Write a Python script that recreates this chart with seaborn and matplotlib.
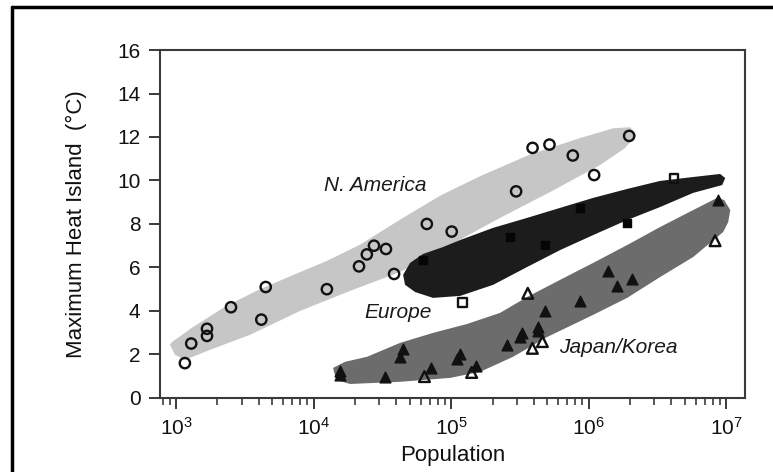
import matplotlib
matplotlib.use('Agg')
import matplotlib.pyplot as plt
import matplotlib.ticker as mticker
from matplotlib.lines import Line2D
import seaborn as sns

# --- data (population, maximum heat island in degC) ---
na_pop = [1160, 1290, 1680, 1680, 2510, 4170, 4490, 12500, 21400, 24400, 27500,
          33600, 38500, 66600, 101000, 297000, 391000, 519000, 767000, 1096000, 1970000]
na_dt = [1.6, 2.5, 2.85, 3.18, 4.17, 3.6, 5.1, 5.0, 6.05, 6.6, 7.0,
         6.85, 5.7, 8.0, 7.65, 9.5, 11.5, 11.65, 11.15, 10.25, 12.05]

eu_open_pop = [121000, 4170000]
eu_open_dt = [4.4, 10.1]
eu_fill_pop = [62500, 268000, 483000, 867000, 1900000]
eu_fill_dt = [6.34, 7.40, 7.03, 8.74, 8.05]

jk_open_pop = [64000, 141000, 361000, 390000, 461000, 8300000]
jk_open_dt = [0.98, 1.17, 4.81, 2.28, 2.59, 7.23]
jk_fill_pop = [15600, 15600, 33000, 42700, 45000, 71600, 110000, 116000, 151000, 254000,
               318000, 325000, 427000, 430000, 478000, 865000, 1380000, 1600000, 2080000, 8700000]
jk_fill_dt = [1.06, 1.25, 0.98, 1.9, 2.24, 1.36, 1.77, 2.0, 1.47, 2.44,
              2.79, 3.0, 3.28, 3.08, 4.01, 4.46, 5.84, 5.16, 5.45, 9.1]

# shaded envelopes around each group (outline points, data units)
na_env_pop = [935, 1330, 2350, 4080, 7100, 12500, 21800, 42600, 83200, 163000, 376000,
              867000, 1510000, 2000000, 2210000, 1840000, 1210000, 525000, 227000, 98400,
              42600, 18400, 7980, 3450, 1766, 1163, 984, 904]
na_env_dt = [2.57, 3.26, 4.25, 5.0, 5.65, 6.3, 7.05, 8.2, 9.3, 10.2, 11.2,
             11.95, 12.4, 12.45, 12.09, 11.49, 10.71, 9.47, 8.28, 7.03,
             5.79, 4.92, 4.00, 2.90, 2.21, 1.75, 1.98, 2.44]

eu_env_pop = [44770, 50320, 62550, 87400, 116200, 202000, 357100, 620500, 1079000, 1905000,
              3311000, 5754000, 9040000, 9840000, 9350000, 5754000, 3311000, 1905000,
              1079000, 620500, 357100, 202000, 116200, 73930, 54720, 46260]
eu_env_dt = [5.66, 6.21, 6.62, 6.94, 7.26, 7.82, 8.28, 8.74, 9.20, 9.61,
             9.98, 10.16, 10.30, 10.11, 9.79, 9.43, 8.78, 8.18,
             7.49, 6.80, 6.02, 5.20, 4.69, 4.60, 4.87, 5.20]

jk_env_pop = [13870, 16950, 24480, 42560, 73930, 130600, 227000, 357100, 620500, 1079000,
              1905000, 3311000, 5754000, 8600000, 9670000, 10700000, 10350000, 9510000,
              5754000, 3311000, 1905000, 1079000, 499000, 282300, 162500, 98400, 42560,
              18410, 14580]
jk_env_dt = [1.38, 1.66, 1.89, 2.53, 2.99, 3.40, 3.91, 4.64, 5.43, 6.21,
             7.03, 7.86, 8.64, 9.20, 9.10, 8.64, 8.09, 7.63,
             6.48, 5.56, 4.60, 3.82, 2.80, 1.89, 1.20, 0.92, 0.74,
             0.64, 0.83]

sns.set_style('ticks')
plt.rcParams['font.family'] = ['Liberation Sans', 'DejaVu Sans']
plt.rcParams['mathtext.fontset'] = 'custom'
plt.rcParams['mathtext.rm'] = 'Liberation Sans'
plt.rcParams['mathtext.it'] = 'Liberation Sans:italic'

fig = plt.figure(figsize=(7.73, 4.72), dpi=100)
ax = fig.add_axes([0.207, 0.157, 0.757, 0.737])
ax.set_xscale('log')

# envelopes, drawn light to dark
ax.fill(na_env_pop, na_env_dt, color='#c6c6c6', lw=0, zorder=1)
ax.fill(eu_env_pop, eu_env_dt, color='#1c1c1c', lw=0, zorder=2)
ax.fill(jk_env_pop, jk_env_dt, color='#6c6c6c', lw=0, zorder=3)

# points
pt = dict(ax=ax, zorder=5, legend=False)
sns.scatterplot(x=na_pop, y=na_dt, marker='o', s=55, color='none',
                edgecolor='#111111', linewidth=1.7, **pt)
sns.scatterplot(x=eu_fill_pop, y=eu_fill_dt, marker='s', s=40, color='#050505',
                edgecolor='#050505', linewidth=1, **pt)
sns.scatterplot(x=eu_open_pop, y=eu_open_dt, marker='s', s=40, color='none',
                edgecolor='#111111', linewidth=1.7, **pt)
sns.scatterplot(x=jk_fill_pop, y=jk_fill_dt, marker='^', s=60, color='#111111',
                edgecolor='#111111', linewidth=1, **pt)
sns.scatterplot(x=jk_open_pop, y=jk_open_dt, marker='^', s=60, color='none',
                edgecolor='#111111', linewidth=1.7, **pt)

# group labels
lab = dict(fontsize=15, style='italic', color='#1a1a1a', ha='center', va='center', zorder=6)
ax.text(28000, 9.75, 'N. America', **lab)
ax.text(41200, 3.95, 'Europe', **lab)
ax.text(1640000, 2.34, 'Japan/Korea', **lab)

# axes
ax.set_xlim(765, 1.374e7)
ax.set_ylim(0, 16)
ax.set_yticks(range(0, 17, 2))
ax.xaxis.set_major_locator(mticker.FixedLocator([1e3, 1e4, 1e5, 1e6, 1e7]))
ax.xaxis.set_major_formatter(mticker.LogFormatterSciNotation())
ax.xaxis.set_minor_locator(mticker.LogLocator(base=10, subs=range(2, 10), numticks=20))
ax.xaxis.set_minor_formatter(mticker.NullFormatter())

for side in ['left', 'right', 'top', 'bottom']:
    ax.spines[side].set_color('#3a3a3a')
    ax.spines[side].set_linewidth(1.5)
ax.tick_params(axis='both', which='major', direction='out', length=8, width=1.4,
               color='#3a3a3a', labelsize=15, labelcolor='#111111', pad=6)
ax.tick_params(axis='x', which='minor', direction='out', length=5, width=1.2, color='#3a3a3a')

ax.set_xlabel('Population', fontsize=16, color='#111111', labelpad=4)
ax.set_ylabel('Maximum Heat Island  (\u00b0C)', fontsize=16, color='#111111', labelpad=22)

# outer frame of the figure panel: only the left and top edges are visible
x0, y1 = 12 / 773, 1 - 7 / 472
fig.add_artist(Line2D([x0, x0], [0, y1], transform=fig.transFigure, color='black', lw=2.5))
fig.add_artist(Line2D([x0, 1], [y1, y1], transform=fig.transFigure, color='black', lw=2.5))

fig.savefig('out.png', dpi=100)
